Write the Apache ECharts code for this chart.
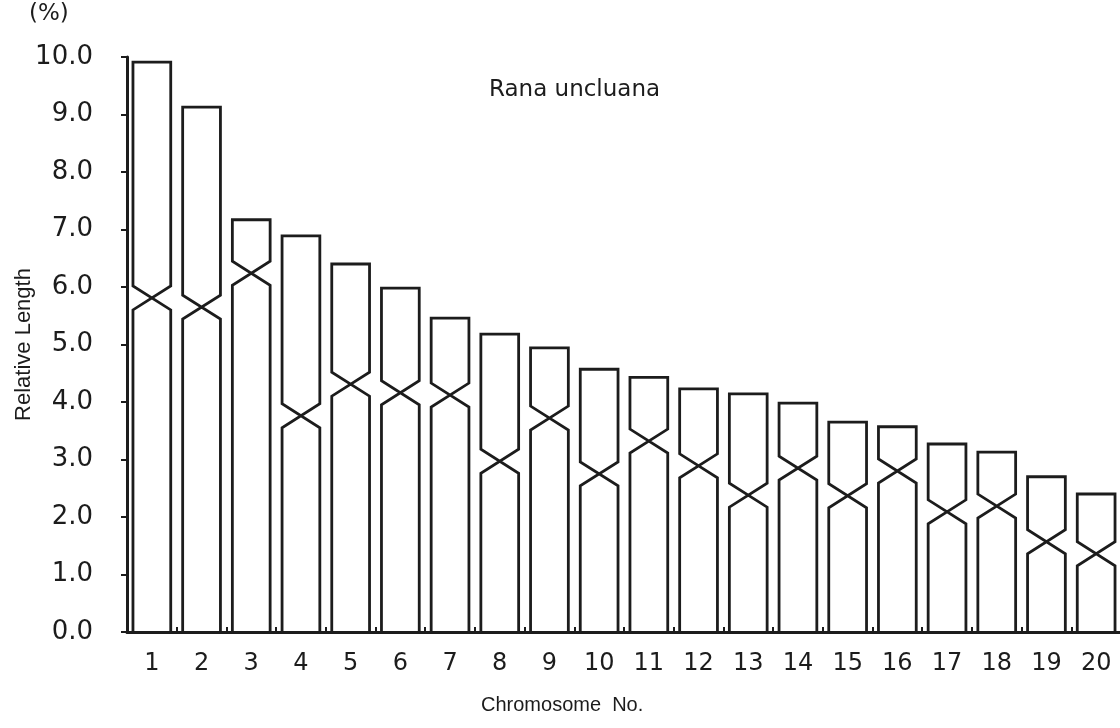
<!DOCTYPE html>
<html>
<head>
<meta charset="utf-8">
<script src="https://cdn.jsdelivr.net/npm/echarts@6/dist/echarts.min.js"></script>
<style>
  html, body { margin: 0; background: #fff; }
  #chart { width: 1120px; height: 728px; }
</style>
</head>
<body>
<div id="chart"></div>
<script>
// chromosome numbers (x categories)
const chromosomes = ['1', '2', '3', '4', '5', '6', '7', '8', '9', '10',
  '11', '12', '13', '14', '15', '16', '17', '18', '19', '20'];
// relative length of each chromosome (%)
const totalLength = [9.91, 9.13, 7.17, 6.89, 6.40, 5.98, 5.46, 5.18, 4.94, 4.57,
  4.43, 4.23, 4.14, 3.98, 3.65, 3.57, 3.27, 3.13, 2.70, 2.40];
// height of the centromere (length of the lower arm, %)
const centromere = [5.81, 5.65, 6.24, 3.76, 4.31, 4.16, 4.12, 2.97, 3.72, 2.75,
  3.32, 2.89, 2.38, 2.85, 2.37, 2.80, 2.09, 2.19, 1.57, 1.36];
// y axis ticks
const yMin = 0;
const yMax = 10;
const yStep = 1;

const lineColor = '#1c1c1c';
const numFont = 'DejaVu Sans';
const nameFont = 'Liberation Sans';

let myChart = echarts.init(document.getElementById('chart'));

function renderChromosome(params, api) {
  const i = api.value(0);
  const top = api.coord([i, api.value(1)]);
  const cen = api.coord([i, api.value(2)]);
  const base = api.coord([i, 0]);
  const w = api.size([1, 0])[0] * 0.76;
  const L = top[0] - w / 2;
  const R = top[0] + w / 2;
  const d = 12; // half height of the centromere "X"
  return {
    type: 'polyline',
    shape: {
      points: [
        [L, base[1]], [L, cen[1] + d], [R, cen[1] - d], [R, top[1]],
        [L, top[1]], [L, cen[1] - d], [R, cen[1] + d], [R, base[1]],
      ],
    },
    style: { stroke: lineColor, lineWidth: 2.8, fill: 'none', lineJoin: 'miter' },
  };
}

var option = {
  backgroundColor: '#fff',
  animation: false,
  title: {
    text: 'Rana uncluana',
    left: 484,
    top: 74,
    textStyle: { fontFamily: numFont, fontSize: 23, fontWeight: 'normal', color: lineColor },
  },
  graphic: [
    {
      type: 'text',
      left: 29,
      top: 3,
      style: { text: '(%)', fontFamily: numFont, fontSize: 23, fill: lineColor },
    },
    {
      type: 'text',
      left: 481,
      top: 695,
      style: { text: 'Chromosome  No.', fontFamily: nameFont, fontSize: 20, fill: lineColor },
    },
  ],
  grid: {
    left: 127,
    top: 57,
    width: 994,
    height: 575,
    outerBoundsMode: 'none',
  },
  xAxis: {
    type: 'category',
    data: chromosomes,
    axisLine: { lineStyle: { color: lineColor, width: 3 } },
    axisTick: { show: true, inside: true, length: 5, lineStyle: { color: lineColor, width: 2 } },
    axisLabel: { fontFamily: numFont, fontSize: 24, color: lineColor, margin: 20 },
    splitLine: { show: false },
  },
  yAxis: {
    type: 'value',
    min: yMin,
    max: yMax,
    interval: yStep,
    name: 'Relative Length',
    nameLocation: 'middle',
    nameGap: 92,
    nameMoveOverlap: false,
    nameTextStyle: { fontFamily: nameFont, fontSize: 22, color: lineColor },
    axisLine: { show: true, lineStyle: { color: lineColor, width: 3 } },
    axisTick: { show: true, length: 6, lineStyle: { color: lineColor, width: 2 } },
    axisLabel: {
      fontFamily: numFont,
      fontSize: 26,
      color: lineColor,
      margin: 34,
      formatter: (v) => v.toFixed(1),
    },
    splitLine: { show: false },
  },
  series: [
    {
      type: 'custom',
      renderItem: renderChromosome,
      encode: { x: 0, y: [1, 2] },
      data: chromosomes.map((c, i) => [i, totalLength[i], centromere[i]]),
      clip: false,
    },
  ],
};

option && myChart.setOption(option);
window.addEventListener('resize', () => {
  myChart.resize();
});
</script>
</body>
</html>
